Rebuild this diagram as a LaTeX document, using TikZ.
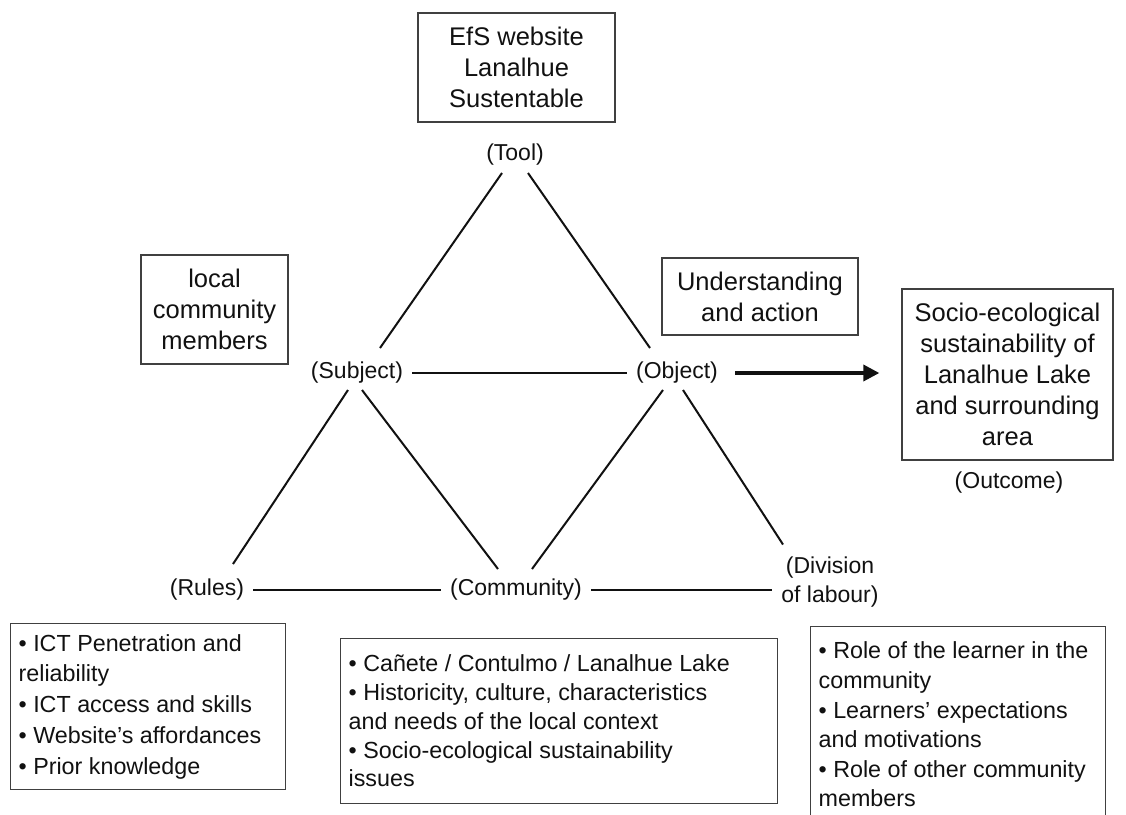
\documentclass[tikz,border=0pt]{standalone}
\usepackage{fontspec}
\setmainfont{Liberation Sans}
\usetikzlibrary{calc,arrows.meta}
\definecolor{boxline}{HTML}{404040}
\definecolor{ink}{HTML}{111111}
\begin{document}
\begin{tikzpicture}[x=1pt,y=-1pt,
  lbl/.style={font=\fontsize{23}{29}\selectfont, inner xsep=9pt, inner ysep=8pt, align=center, text=ink},
  topbox/.style={draw=boxline, line width=1.3pt, font=\fontsize{25.5}{31}\selectfont, align=center, inner sep=0pt, text=ink},
  listbox/.style={draw=boxline, line width=1.3pt, anchor=north west, inner xsep=8pt, inner ysep=0pt, align=flush left, text=ink},
  link/.style={line width=2pt, draw=ink},
  flow/.style={line width=3.5pt, draw=ink, -{Triangle[length=16pt,width=16pt]}}
]
\useasboundingbox (0,0) rectangle (1126,814);
\clip (0,0) rectangle (1126,814);

% boxes above the triangle
\node[topbox, minimum width=197pt, minimum height=109pt] (tooltext) at (516.5,67.5)
  {EfS website\\Lanalhue\\Sustentable};
\node[topbox, minimum width=147pt, minimum height=109pt] (subjtext) at (214.5,309.5)
  {local\\community\\members};
\node[topbox, minimum width=196pt, minimum height=77pt] (objtext) at (760,296.5)
  {Understanding\\and action};
\node[topbox, minimum width=211pt, minimum height=171pt] (outcome) at (1007.5,374.5)
  {Socio-ecological\\sustainability of\\Lanalhue Lake\\and surrounding\\area};

% activity system labels
\node[lbl] (tool) at (515,155) {(Tool)};
\node[lbl] (subject) at (357,373) {(Subject)};
\node[lbl] (object) at (677,373) {(Object)};
\node[lbl] (rules) at (207,590) {(Rules)};
\node[lbl] (community) at (516,590) {(Community)};
\node[lbl] (division) at (830,582.5) {(Division\\of labour)};
\node[lbl] (outlabel) at (1009,483) {(Outcome)};

% triangle edges
\draw[link] ($(tool)+(-13,18)$) -- ($(subject)+(23,-25)$);
\draw[link] ($(tool)+(13,18)$) -- ($(object)+(-27,-25)$);
\draw[link] (subject) -- (object);
\draw[link] ($(subject)+(-9,17)$) -- ($(rules)+(26,-26)$);
\draw[link] ($(subject)+(5,17)$) -- ($(community)+(-18,-21)$);
\draw[link] ($(object)+(-14,17)$) -- ($(community)+(16,-21)$);
\draw[link] ($(object)+(6,17)$) -- ($(division)+(-47,-38)$);
\draw[link] (rules) -- (community);
\draw[link] (community) -- (community -| division.west);

% object to outcome
\draw[flow, shorten <=8pt, shorten >=22pt] (object) -- (object -| outcome.west);

% lists under the base
\node[listbox, minimum width=275pt, minimum height=166pt, text width=259pt,
      font=\fontsize{23.3}{30.75}\selectfont] (rulelist) at (10,623)
  {• ICT Penetration and\\reliability\\• ICT access and skills\\• Website’s affordances\\• Prior knowledge};
\node[listbox, minimum width=437pt, minimum height=165pt, text width=421pt,
      font=\fontsize{23.3}{28.75}\selectfont] (commlist) at (340,638)
  {• Cañete / Contulmo / Lanalhue Lake\\• Historicity, culture, characteristics\\and needs of the local context\\• Socio-ecological sustainability\\issues};
\node[listbox, minimum width=295pt, minimum height=196pt, text width=279pt,
      font=\fontsize{23.3}{29.6}\selectfont] (divlist) at (810,626)
  {• Role of the learner in the\\community\\• Learners’ expectations\\and motivations\\• Role of other community\\members};
\end{tikzpicture}
\end{document}
